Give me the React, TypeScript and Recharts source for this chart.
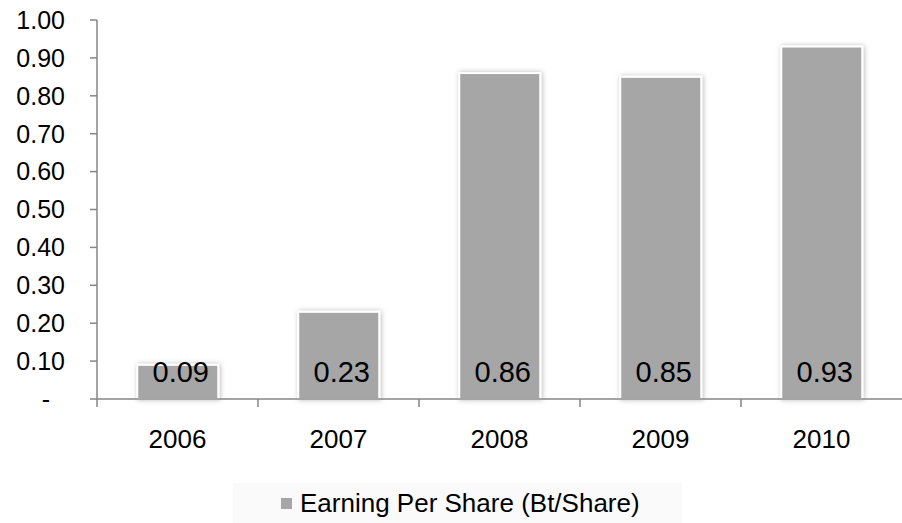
import { Bar, BarChart, LabelList, Legend, XAxis, YAxis } from "recharts";

const years = ["2006", "2007", "2008", "2009", "2010"];
const eps = [0.09, 0.23, 0.86, 0.85, 0.93];
const yTicks = [0, 0.1, 0.2, 0.3, 0.4, 0.5, 0.6, 0.7, 0.8, 0.9, 1.0];
const seriesName = "Earning Per Share (Bt/Share)";

const data = years.map((y, i) => ({ year: y, eps: eps[i] }));

const FONT = "'Liberation Sans', Arial, sans-serif";
const AXIS = "#868686";
const BAR = "#A6A6A6";

const YTick = (props: any) => {
  const { x, y, payload } = props;
  const v = payload.value as number;
  const isZero = v === 0;
  return (
    <text
      x={isZero ? x - 15 : x}
      y={y}
      dy="0.355em"
      textAnchor="end"
      fontSize={25}
      fontFamily={FONT}
      fill="#000"
    >
      {isZero ? "-" : v.toFixed(2)}
    </text>
  );
};

const XTick = (props: any) => {
  const { x, y, payload } = props;
  const half = payload.offset ?? 80.5;
  return (
    <g>
      <line x1={x - half} x2={x - half} y1={y} y2={y + 8} stroke={AXIS} strokeWidth={1.5} />
      <text x={x} y={y + 49} textAnchor="middle" fontSize={26} fontFamily={FONT} fill="#000">
        {payload.value}
      </text>
    </g>
  );
};

const ShadowBar = (props: any) => {
  const { x, y, width, height } = props;
  if (!height || height <= 0) return null;
  return (
    <rect
      x={x}
      y={y}
      width={width}
      height={height}
      fill={BAR}
      stroke="#fff"
      strokeWidth={2}
      filter="url(#barShadow)"
    />
  );
};

const BarValue = (props: any) => {
  const { x, y, width, height, value } = props;
  return (
    <text
      x={x + width / 2 + 3}
      y={y + height - 17}
      textAnchor="middle"
      fontSize={29}
      fontFamily={FONT}
      fill="#000"
    >
      {Number(value).toFixed(2)}
    </text>
  );
};

const LegendBox = () => (
  <div
    style={{
      marginLeft: 233,
      width: 449,
      height: 40,
      background: "#FAFAFA",
      display: "flex",
      alignItems: "center",
      paddingLeft: 48,
      boxSizing: "border-box",
      fontFamily: FONT,
      fontSize: 26,
      color: "#000",
    }}
  >
    <span style={{ display: "inline-block", width: 11, height: 11, background: BAR, marginRight: 8 }} />
    <span>{seriesName}</span>
  </div>
);

export default function App() {
  return (
    <div style={{ position: "absolute", left: 0, top: 0, width: 902, height: 523, background: "#fff" }}>
      <svg width={0} height={0} style={{ position: "absolute" }}>
        <defs>
          <filter id="barShadow" x="-20%" y="-20%" width="140%" height="140%">
            <feDropShadow dx={1} dy={0} stdDeviation={2.5} floodColor="#000" floodOpacity={0.28} />
          </filter>
        </defs>
      </svg>
      <BarChart
        width={902}
        height={523}
        data={data}
        margin={{ top: 20, right: 0, left: 0, bottom: 0 }}
        barCategoryGap="25%"
      >
        <XAxis
          dataKey="year"
          height={84}
          stroke={AXIS}
          strokeWidth={1.5}
          tickLine={false}
          tickSize={0}
          tickMargin={0}
          tick={<XTick />}
          interval={0}
        />
        <YAxis
          width={97}
          domain={[0, 1]}
          ticks={yTicks}
          interval={0}
          stroke={AXIS}
          strokeWidth={1.5}
          tickSize={7}
          tickMargin={25}
          tick={<YTick />}
        />
        <Legend verticalAlign="bottom" height={40} wrapperStyle={{ left: 0, width: 902 }} content={<LegendBox />} />
        <Bar dataKey="eps" name={seriesName} fill={BAR} shape={<ShadowBar />} isAnimationActive={false}>
          <LabelList dataKey="eps" content={<BarValue />} />
        </Bar>
      </BarChart>
    </div>
  );
}
